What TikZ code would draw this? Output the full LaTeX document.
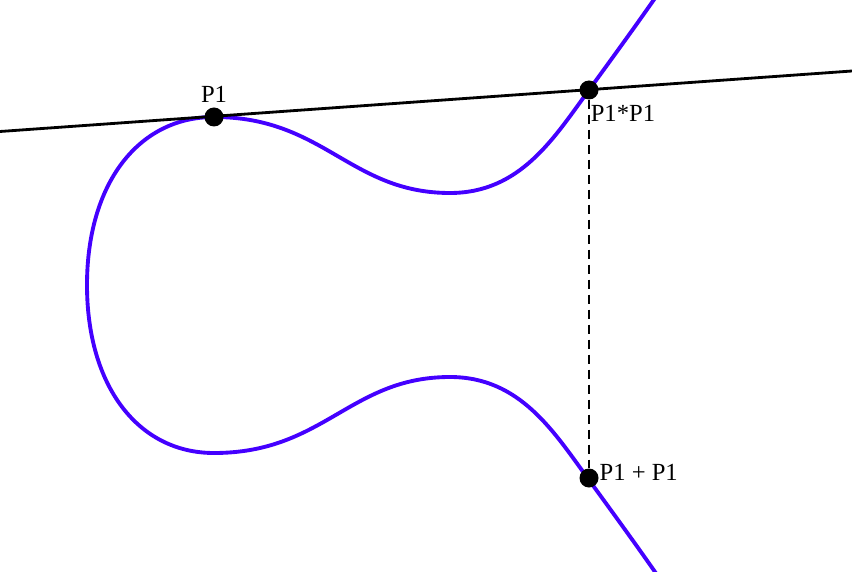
\documentclass[tikz,border=0pt]{standalone}
\usepackage{fontspec}
\setmainfont{Liberation Serif}
\usetikzlibrary{positioning}
\definecolor{curveblue}{RGB}{68,0,255}
\tikzset{
  dot/.style={circle, fill=black, inner sep=0pt, minimum size=0.57cm},
  ptlabel/.style={inner sep=2pt, font=\fontsize{21}{24}\selectfont},
}
\begin{document}
\begin{tikzpicture}[x=0.03cm, y=-0.03cm]

  % Frame
  \useasboundingbox (0,0) rectangle (852,572);
  \clip (0,0) rectangle (852,572);

  % Curve
  \draw[curveblue, line width=3.3pt] (662,-12)
    .. controls (640,20) and (613,57) .. (589,90)
    .. controls (553.6,138.6) and (520,193) .. (450,193)
    .. controls (350,193) and (324,117) .. (214,117)
    .. controls (138,117) and (87,184) .. (87,285)
    .. controls (87,386) and (138,453) .. (214,453)
    .. controls (324,453) and (350,377) .. (450,377)
    .. controls (520,377) and (553.6,431.4) .. (589,480)
    .. controls (613,513) and (640,550) .. (662,582);

  % Tangent line
  \coordinate (tl) at (0,131.5);
  \coordinate (tr) at (852,71);
  \draw[line width=2.4pt] (tl) -- (tr);

  % Points
  \node (P1) [dot] at (214,117) {};
  \node (P1P1) [dot] at (589,90) {};
  \node (P1sum) [dot] at (589,478) {};

  % Labels
  \node (P1lbl) [ptlabel, above=0.08cm of P1] {P1};
  \node (P1P1lbl) [ptlabel, below right=0.18cm and -0.23cm of P1P1] {P1*P1};
  \node (P1sumlbl) [ptlabel, right=-0.05cm of P1sum, yshift=0.18cm] {P1 + P1};

  % Reflection
  \draw[line width=2.5pt, dash pattern=on 7.7pt off 5.1pt] (P1P1) -- (P1sum);

\end{tikzpicture}
\end{document}
